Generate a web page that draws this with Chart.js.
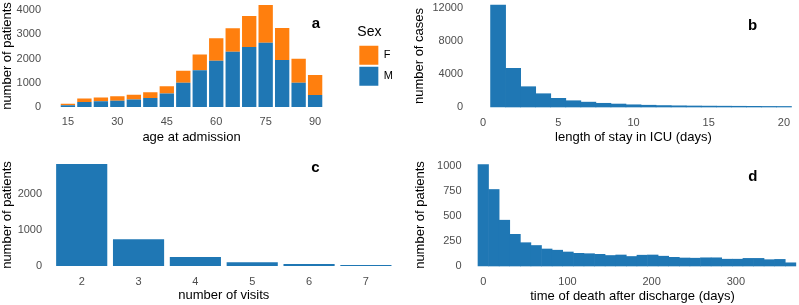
<!DOCTYPE html>
<html>
<head>
<meta charset="utf-8">
<script src="https://cdn.jsdelivr.net/npm/chart.js@4.4.0/dist/chart.umd.min.js"></script>
<style>
  html, body { margin: 0; padding: 0; background: #fff; }
  body { width: 799px; height: 305px; position: relative; overflow: hidden; }
  canvas { position: absolute; }
</style>
</head>
<body>
<canvas id="ageChart" width="403" height="150" style="left:0;top:0"></canvas>
<canvas id="losChart" width="399" height="150" style="left:400px;top:0"></canvas>
<canvas id="visitChart" width="400" height="155" style="left:0;top:150px"></canvas>
<canvas id="deathChart" width="399" height="155" style="left:400px;top:150px"></canvas>
<script>
// a: age at admission, stacked by sex
const ageBins = [15, 20, 25, 30, 35, 40, 45, 50, 55, 60, 65, 70, 75, 80, 85, 90];
const maleCounts = [70, 210, 240, 255, 305, 370, 555, 995, 1515, 1910, 2280, 2475, 2650, 1940, 1000, 495];
const femaleCounts = [60, 140, 150, 190, 205, 235, 300, 495, 650, 925, 965, 1280, 1555, 1320, 990, 825];
const ageTicks = [15, 30, 45, 60, 75, 90];
const ageCountTicks = [0, 1000, 2000, 3000, 4000];

// b: length of stay in ICU
const losDays = [1, 2, 3, 4, 5, 6, 7, 8, 9, 10, 11, 12, 13, 14, 15, 16, 17, 18, 19, 20];
const losCases = [12350, 4690, 2460, 1610, 1050, 760, 590, 450, 360, 270, 215, 175, 145, 125, 110, 100, 90, 80, 70, 65];
const losTicks = [0, 5, 10, 15, 20];
const losCaseTicks = [0, 4000, 8000, 12000];

// c: number of visits
const visits = [2, 3, 4, 5, 6, 7];
const visitPatients = [2850, 745, 250, 105, 55, 28];
const visitCountTicks = [0, 1000, 2000];

// d: time of death after discharge (30 bins)
const deathDays = [0, 12.6, 25.2, 37.8, 50.3, 62.9, 75.5, 88.1, 100.7, 113.3, 125.9, 138.4, 151, 163.6, 176.2,
  188.8, 201.4, 214, 226.6, 239.1, 251.7, 264.3, 276.9, 289.5, 302.1, 314.7, 327.2, 339.8, 352.4, 365];
const deathPatients = [1015, 765, 458, 317, 233, 205, 170, 158, 140, 127, 123, 117, 105, 110, 95,
  108, 110, 98, 87, 80, 78, 82, 82, 68, 68, 76, 76, 63, 66, 32];
const deathTicks = [0, 100, 200, 300];
const deathCountTicks = [0, 250, 500, 750, 1000];

const BLUE = '#1f77b4';
const ORANGE = '#ff7f0e';
const FONT = "'Liberation Sans', Arial, Helvetica, sans-serif";

Chart.defaults.font.family = FONT;
Chart.defaults.animation = false;

const fixedTicks = list => scale => { scale.ticks = list.map(v => ({ value: v })); };

const panelTag = {
  id: 'panelTag',
  afterDraw(chart, args, opts) {
    const ctx = chart.ctx;
    ctx.save();
    ctx.font = 'bold 15px ' + FONT;
    ctx.fillStyle = '#000';
    ctx.textAlign = 'center';
    ctx.textBaseline = 'alphabetic';
    ctx.fillText(opts.text, opts.x, opts.y);
    ctx.restore();
  }
};

function xAxis(min, max, ticks, title, height, tickPad, titlePad) {
  return {
    type: 'linear', min, max, stacked: true, offset: false,
    grid: { display: false, drawTicks: false, offset: false }, border: { display: false },
    afterBuildTicks: fixedTicks(ticks),
    afterFit: s => { s.height = height; s.paddingLeft = 0; s.paddingRight = 0; },
    ticks: { color: '#4d4d4d', font: { size: 11 }, padding: tickPad, maxRotation: 0, autoSkip: false, callback: v => String(v) },
    title: { display: true, text: title, color: '#000', font: { size: 13 }, padding: { top: 0, bottom: titlePad } }
  };
}

function yAxis(min, max, ticks, title, width, titlePad, tickPad) {
  return {
    min, max, stacked: true,
    grid: { display: false, drawTicks: false }, border: { display: false },
    afterBuildTicks: fixedTicks(ticks),
    afterFit: s => { s.width = width; s.paddingTop = 0; s.paddingBottom = 0; },
    ticks: { color: '#4d4d4d', font: { size: 11 }, padding: tickPad, callback: v => String(v) },
    title: { display: true, text: title, color: '#000', font: { size: 13 }, padding: { top: titlePad, bottom: 0 } }
  };
}

const points = (xs, ys) => xs.map((x, i) => ({ x, y: ys[i] }));

// a
new Chart('ageChart', {
  type: 'bar',
  data: {
    datasets: [
      { label: 'M', data: points(ageBins, maleCounts), backgroundColor: BLUE, borderColor: BLUE, borderWidth: 0 },
      { label: 'F', data: points(ageBins, femaleCounts), backgroundColor: ORANGE, borderColor: ORANGE, borderWidth: 0 }
    ]
  },
  options: {
    responsive: false,
    layout: { padding: 0 },
    datasets: { bar: { barPercentage: 0.87, categoryPercentage: 1 } },
    scales: {
      x: xAxis(8.5, 96.5, ageTicks, 'age at admission', 38, 3.5, 5),
      y: yAxis(-206, 4412, ageCountTicks, 'number of patients', 46.5, 0, 5.5),
      gap: {
        type: 'linear', position: 'right', display: true,
        grid: { display: false, drawTicks: false }, border: { display: false },
        ticks: { display: false },
        afterFit: s => { s.width = 20.8; }
      }
    },
    plugins: {
      legend: {
        position: 'right', align: 'start', reverse: true,
        title: { display: true, text: 'Sex', color: '#000', position: 'start', font: { size: 14 }, padding: { top: 25, bottom: 2 } },
        labels: { boxWidth: 19, boxHeight: 19, padding: 2, color: '#000', font: { size: 11 } }
      },
      tooltip: { enabled: false },
      panelTag: { text: 'a', x: 316, y: 28 }
    }
  },
  plugins: [panelTag]
});

// b
new Chart('losChart', {
  type: 'bar',
  data: { datasets: [{ data: points(losDays, losCases), backgroundColor: BLUE, borderWidth: 0 }] },
  options: {
    responsive: false,
    layout: { padding: 0 },
    datasets: { bar: { barPercentage: 1, categoryPercentage: 1 } },
    scales: {
      x: xAxis(-1, 21, losTicks, 'length of stay in ICU (days)', 38, 4, 4.5),
      y: yAxis(-606, 12970, losCaseTicks, 'number of cases', 68, 12, 5)
    },
    plugins: {
      legend: { display: false },
      tooltip: { enabled: false },
      panelTag: { text: 'b', x: 352.7, y: 30 }
    }
  },
  plugins: [panelTag]
});

// c
new Chart('visitChart', {
  type: 'bar',
  data: { datasets: [{ data: points(visits, visitPatients), backgroundColor: BLUE, borderWidth: 0 }] },
  options: {
    responsive: false,
    layout: { padding: { top: 9 } },
    datasets: { bar: { barPercentage: 0.9, categoryPercentage: 1 } },
    scales: {
      x: xAxis(1.4, 7.6, visits, 'number of visits', 34, 4, 1.5),
      y: yAxis(-140, 2989, visitCountTicks, 'number of patients', 47.6, 0, 5.5)
    },
    plugins: {
      legend: { display: false },
      tooltip: { enabled: false },
      panelTag: { text: 'c', x: 315.3, y: 21.7 }
    }
  },
  plugins: [panelTag]
});

// d
new Chart('deathChart', {
  type: 'bar',
  data: { datasets: [{ data: points(deathDays, deathPatients), backgroundColor: BLUE, borderWidth: 0 }] },
  options: {
    responsive: false,
    layout: { padding: { top: 9 } },
    datasets: { bar: { barPercentage: 1, categoryPercentage: 1 } },
    scales: {
      x: xAxis(-20.5, 375, deathTicks, 'time of death after discharge (days)', 34, 4, 0.5),
      y: yAxis(-50, 1070, deathCountTicks, 'number of patients', 66, 13, 4.5)
    },
    plugins: {
      legend: { display: false },
      tooltip: { enabled: false },
      panelTag: { text: 'd', x: 352.8, y: 31 }
    }
  },
  plugins: [panelTag]
});
</script>
</body>
</html>
